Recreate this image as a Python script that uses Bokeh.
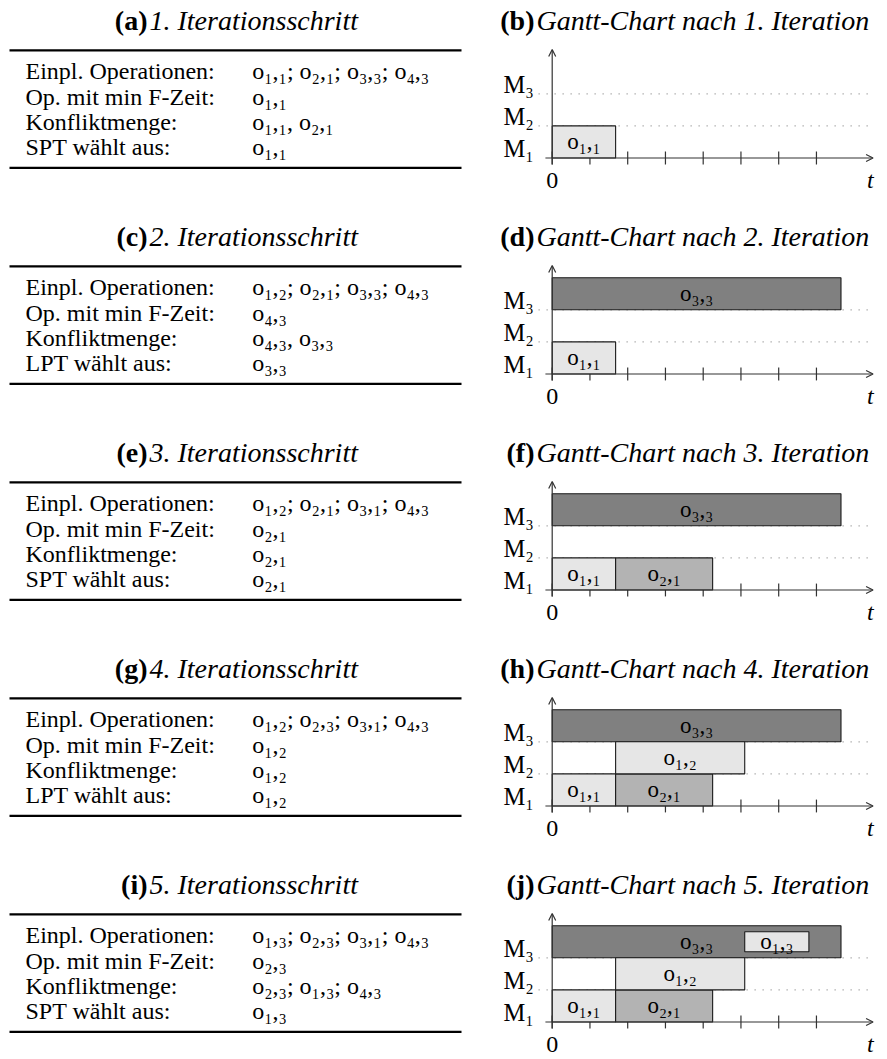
from bokeh.plotting import figure
from bokeh.models import Range1d, Arrow, OpenHead, ColumnDataSource
from bokeh.layouts import row, column
from bokeh.core.properties import value
from bokeh.embed import file_html
from bokeh.resources import INLINE

# ---------------- data ----------------
step_tags = ["(a)", "(c)", "(e)", "(g)", "(i)"]
step_titles = ["1. Iterationsschritt", "2. Iterationsschritt", "3. Iterationsschritt",
               "4. Iterationsschritt", "5. Iterationsschritt"]
gantt_tags = ["(b)", "(d)", "(f)", "(h)", "(j)"]
gantt_titles = ["Gantt-Chart nach 1. Iteration", "Gantt-Chart nach 2. Iteration",
                "Gantt-Chart nach 3. Iteration", "Gantt-Chart nach 4. Iteration",
                "Gantt-Chart nach 5. Iteration"]
row_names = ["Einpl. Operationen:", "Op. mit min F-Zeit:", "Konfliktmenge:", "wählt aus:"]
priority_rules = ["SPT", "LPT", "SPT", "LPT", "SPT"]
planned_ops = ["o₁,₁; o₂,₁; o₃,₃; o₄,₃", "o₁,₂; o₂,₁; o₃,₃; o₄,₃", "o₁,₂; o₂,₁; o₃,₁; o₄,₃",
               "o₁,₂; o₂,₃; o₃,₁; o₄,₃", "o₁,₃; o₂,₃; o₃,₁; o₄,₃"]
min_f_ops = ["o₁,₁", "o₄,₃", "o₂,₁", "o₁,₂", "o₂,₃"]
conflict_sets = ["o₁,₁, o₂,₁", "o₄,₃, o₃,₃", "o₂,₁", "o₁,₂", "o₂,₃; o₁,₃; o₄,₃"]
selected_ops = ["o₁,₁", "o₃,₃", "o₂,₁", "o₁,₂", "o₁,₃"]

machine_labels = ["M₁", "M₂", "M₃"]
machine_index = [1, 2, 3]
time_ticks = [0, 1, 2, 3, 4, 5, 6, 7]
time_axis_labels = ["0", "t"]
time_axis_label_pos = [0, 8.43]

op_names = ["o₁,₁", "o₃,₃", "o₂,₁", "o₁,₂", "o₁,₃"]
op_machine = [1, 3, 1, 2, 3]
op_start = [0.0, 0.0, 1.68, 1.68, 5.1]
op_end = [1.68, 7.65, 4.25, 5.1, 6.8]
op_added = [1, 2, 3, 4, 5]
op_fill = ["#e6e6e6", "#808080", "#b3b3b3", "#e6e6e6", "#e6e6e6"]
op_height = [1.0, 1.0, 1.0, 1.0, 0.62]

# ---------------- layout constants (page pixels) ----------------
SERIF = "Liberation Serif"
PITCH = 216.0
AXIS0 = 157.5
PX_T = 37.75      # pixels per time unit
PX_M = 32.1       # pixels per machine row
T0_X = 551.7      # page x of t = 0
LEFT_W = 470
RIGHT_W = 416
TOTAL_H = 1058
AXES_Y = [AXIS0 + PITCH * r for r in range(5)]
G_TOPS = [0] + [int(round(a + 52)) for a in AXES_Y[:-1]]
G_HEIGHTS = [b - a for a, b in zip(G_TOPS, G_TOPS[1:] + [TOTAL_H])]


def base_fig(w, h, xr, yr):
    p = figure(width=w, height=h, x_range=xr, y_range=yr, output_backend="svg",
               toolbar_location=None, x_axis_location=None, y_axis_location=None,
               min_border=0)
    p.grid.visible = False
    p.outline_line_color = None
    p.background_fill_color = "white"
    p.border_fill_color = "white"
    return p


# ---------------- left column: tables ----------------
tab = base_fig(LEFT_W, TOTAL_H, Range1d(0, LEFT_W), Range1d(TOTAL_H, 0))

cap_y = [a - 138 for a in AXES_Y]
tab.text(x=[147] * 5, y=cap_y, text=step_tags, text_font=value(SERIF),
         text_font_style="bold", text_font_size="28px", text_align="right",
         text_baseline="middle", text_color="black")
tab.text(x=[149] * 5, y=cap_y, text=step_titles, text_font=value(SERIF),
         text_font_style="italic", text_font_size="28px", text_align="left",
         text_baseline="middle", text_color="black")

rule_y, lab_y, lab_t, val_t = [], [], [], []
row_offsets = [21.0, 46.3, 71.6, 96.9]
for r in range(5):
    R = AXES_Y[r] - 107.7
    rule_y += [R, R + 117.5]
    labels = row_names[:3] + [priority_rules[r] + " " + row_names[3]]
    vals = [planned_ops[r], min_f_ops[r], conflict_sets[r], selected_ops[r]]
    for k in range(4):
        lab_y.append(R + row_offsets[k])
        lab_t.append(labels[k])
        val_t.append(vals[k])
tab.segment(x0=[9] * len(rule_y), x1=[461] * len(rule_y), y0=rule_y, y1=rule_y,
            line_color="black", line_width=2.2)
tab.text(x=[25] * len(lab_t), y=lab_y, text=lab_t, text_font=value(SERIF),
         text_font_size="24px", text_align="left", text_baseline="middle",
         text_color="black")
tab.text(x=[251.7] * len(val_t), y=lab_y, text=val_t, text_font=value(SERIF),
         text_font_size="24px", text_align="left", text_baseline="middle",
         text_color="black")

# ---------------- right column: Gantt charts ----------------
gantts = []
for r in range(5):
    it = r + 1
    A = AXES_Y[r]
    y_top = (A - G_TOPS[r]) / PX_M
    y_bot = y_top - G_HEIGHTS[r] / PX_M
    xr = Range1d((LEFT_W - T0_X) / PX_T, (LEFT_W + RIGHT_W - T0_X) / PX_T)
    g = base_fig(RIGHT_W, G_HEIGHTS[r], xr, Range1d(y_bot, y_top))

    # dotted row separators
    seps = machine_index[:-1]
    g.segment(x0=[-0.36] * len(seps), x1=[8.5] * len(seps), y0=seps, y1=seps,
              line_color="#8c8c8c", line_width=1.3, line_dash="1 7")
    # ticks
    g.segment(x0=time_ticks, x1=time_ticks, y0=[-0.2] * len(time_ticks),
              y1=[0.2] * len(time_ticks), line_color="#333333", line_width=1.2)

    # bars
    idx = [i for i in range(len(op_names)) if op_added[i] <= it]
    left = [op_start[i] for i in idx]
    right = [op_end[i] for i in idx]
    mid = [op_machine[i] - 0.5 for i in idx]
    bottom = [op_machine[i] - 0.5 - op_height[i] / 2 for i in idx]
    top = [op_machine[i] - 0.5 + op_height[i] / 2 for i in idx]
    g.quad(left=left, right=right, bottom=bottom, top=top,
           fill_color=[op_fill[i] for i in idx], line_color="#1a1a1a", line_width=1.1)
    g.text(x=[(a + b) / 2 for a, b in zip(left, right)], y=mid,
           text=[op_names[i] for i in idx], text_font=value(SERIF),
           text_font_size="23px", text_align="center", text_baseline="middle",
           text_color="black")

    # machine labels
    g.text(x=[-0.89] * 3, y=[m - 0.7 for m in machine_index], text=machine_labels,
           text_font=value(SERIF), text_font_size="24.5px", text_align="center",
           text_baseline="middle", text_color="black")

    # axes with arrow heads
    g.add_layout(Arrow(x_start=-0.18, y_start=0, x_end=8.5, y_end=0,
                       line_color="#333333", line_width=1.2,
                       end=OpenHead(size=7, line_color="#333333", line_width=1.2)))
    g.add_layout(Arrow(x_start=0, y_start=-0.2, x_end=0, y_end=3.38,
                       line_color="#333333", line_width=1.2,
                       end=OpenHead(size=7, line_color="#333333", line_width=1.2)))
    lab_src = ColumnDataSource(dict(x=time_axis_label_pos, y=[-0.7, -0.7],
                                    text=time_axis_labels,
                                    style=["normal", "italic"]))
    g.text(x="x", y="y", text="text", source=lab_src, text_font=value(SERIF),
           text_font_style="style", text_font_size="24px", text_align="center",
           text_baseline="middle", text_color="black")

    # caption
    cy = 138 / PX_M
    g.text(x=[(534 - T0_X) / PX_T], y=[cy], text=[gantt_tags[r]], text_font=value(SERIF),
           text_font_style="bold", text_font_size="28px", text_align="right",
           text_baseline="middle", text_color="black")
    g.text(x=[(536 - T0_X) / PX_T], y=[cy], text=[gantt_titles[r]], text_font=value(SERIF),
           text_font_style="italic", text_font_size="28px", text_align="left",
           text_baseline="middle", text_color="black")
    gantts.append(g)

layout = row(tab, column(*gantts))
open("out.html", "w").write(file_html(layout, INLINE))
